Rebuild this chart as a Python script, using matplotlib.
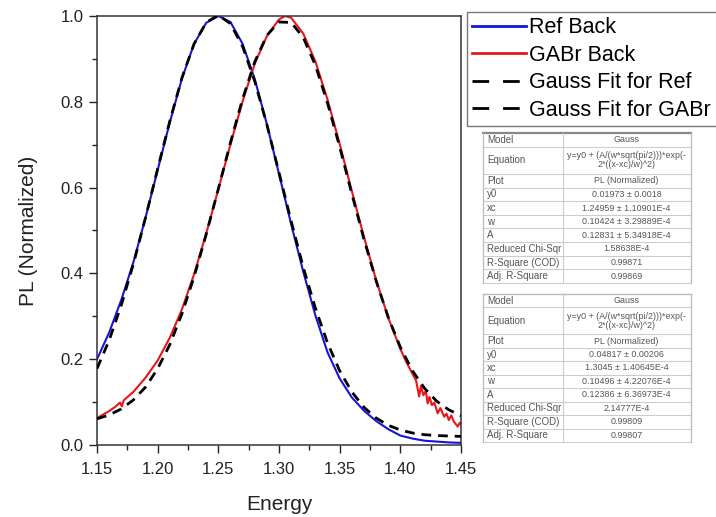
import numpy as np
import matplotlib.pyplot as plt
from matplotlib.lines import Line2D
from matplotlib.ticker import MultipleLocator

plt.rcParams['font.family'] = ['Liberation Sans', 'DejaVu Sans']

# energy grid for the Ref curve and the two fits
energy = [1.15, 1.16, 1.17, 1.18, 1.19, 1.20, 1.21, 1.22, 1.23, 1.24, 1.25,
          1.26, 1.27, 1.28, 1.29, 1.30, 1.31, 1.32, 1.33, 1.34, 1.35,
          1.36, 1.37, 1.38, 1.39, 1.40, 1.41, 1.42, 1.43, 1.44, 1.45]

ref_back = [0.200, 0.262, 0.338, 0.426, 0.530, 0.641, 0.752, 0.854, 0.935, 0.984, 1.000,
            0.986, 0.935, 0.853, 0.748, 0.632, 0.515, 0.404, 0.302, 0.216, 0.155,
            0.111, 0.080, 0.056, 0.037, 0.022, 0.015, 0.010, 0.008, 0.006, 0.005]

fit_ref = [0.178, 0.244, 0.326, 0.422, 0.530, 0.644, 0.755, 0.856, 0.935, 0.985, 1.002,
           0.982, 0.929, 0.848, 0.747, 0.635, 0.522, 0.414, 0.319, 0.238, 0.173,
           0.124, 0.088, 0.063, 0.046, 0.035, 0.028, 0.024, 0.022, 0.021, 0.020]

fit_gabr = [0.061, 0.070, 0.084, 0.105, 0.135, 0.178, 0.234, 0.306, 0.392, 0.491, 0.597,
            0.705, 0.807, 0.893, 0.955, 0.986, 0.985, 0.950, 0.885, 0.797, 0.695,
            0.586, 0.480, 0.383, 0.298, 0.228, 0.173, 0.132, 0.102, 0.082, 0.068]

# GABr curve has its own (uneven) energy points, noisy at high energy
gabr_energy = [1.15, 1.16, 1.165, 1.169, 1.1705, 1.172, 1.18, 1.19, 1.20, 1.21, 1.22,
               1.23, 1.24, 1.25, 1.26, 1.27, 1.28, 1.29, 1.30, 1.305, 1.31, 1.32,
               1.33, 1.34, 1.35, 1.36, 1.37, 1.38, 1.39, 1.40, 1.405, 1.41, 1.413,
               1.4155, 1.417, 1.419, 1.421, 1.4225, 1.424, 1.426, 1.428, 1.4308,
               1.433, 1.4362, 1.438, 1.440, 1.442, 1.444, 1.4473, 1.449, 1.45]
gabr_back = [0.063, 0.079, 0.089, 0.099, 0.090, 0.104, 0.124, 0.157, 0.197, 0.250, 0.316,
             0.398, 0.493, 0.596, 0.701, 0.801, 0.889, 0.953, 0.992, 1.000, 0.996, 0.959,
             0.894, 0.805, 0.702, 0.592, 0.485, 0.385, 0.297, 0.224, 0.193, 0.166, 0.150,
             0.113, 0.138, 0.116, 0.126, 0.097, 0.112, 0.093, 0.099, 0.074,
             0.086, 0.066, 0.073, 0.058, 0.069, 0.055, 0.043, 0.052, 0.048]

labels = ['Ref Back', 'GABr Back', 'Gauss Fit for Ref', 'Gauss Fit for GABr']

row_names = ['Model', 'Equation', 'Plot', 'y0', 'xc', 'w', 'A',
             'Reduced Chi-Sqr', 'R-Square (COD)', 'Adj. R-Square']
equation = 'y=y0 + (A/(w*sqrt(pi/2)))*exp(-\n2*((x-xc)/w)^2)'
table_ref = ['Gauss', equation, 'PL (Normalized)', '0.01973 \u00b1 0.0018',
             '1.24959 \u00b1 1.10901E-4', '0.10424 \u00b1 3.29889E-4',
             '0.12831 \u00b1 5.34918E-4', '1.58638E-4', '0.99871', '0.99869']
table_gabr = ['Gauss', equation, 'PL (Normalized)', '0.04817 \u00b1 0.00206',
              '1.3045 \u00b1 1.40645E-4', '0.10496 \u00b1 4.22076E-4',
              '0.12386 \u00b1 6.36973E-4', '2.14777E-4', '0.99809', '0.99807']

fig = plt.figure(figsize=(7.16, 5.17), dpi=100)
ax = fig.add_axes([97/716, 72/517, 364/716, 429/517])

ax.plot(energy, ref_back, color='#1414dc', lw=1.5, zorder=2)
ax.plot(gabr_energy, gabr_back, color='#e8161b', lw=1.5, zorder=2)
ax.plot(energy, fit_ref, color='black', lw=2, dashes=(3.5, 2.5), zorder=3)
ax.plot(energy, fit_gabr, color='black', lw=2, dashes=(3.5, 2.5), zorder=3)

ax.set_xlim(1.15, 1.45)
ax.set_ylim(0, 1.0)
ax.xaxis.set_minor_locator(MultipleLocator(0.025))
ax.yaxis.set_major_locator(MultipleLocator(0.2))
ax.yaxis.set_minor_locator(MultipleLocator(0.1))
ax.set_xticks(np.round(np.arange(1.15, 1.451, 0.05), 2))
ax.set_xticklabels(['%.2f' % v for v in np.arange(1.15, 1.451, 0.05)])
ax.tick_params(which='major', direction='out', length=6, width=1, labelsize=12,
               colors='#222', top=False, right=False)
ax.tick_params(axis='x', which='major', pad=6)
ax.tick_params(which='minor', direction='out', length=3.5, width=1,
               top=False, right=False, colors='#222')
for s in ax.spines.values():
    s.set_color('#333')
    s.set_linewidth(1.1)
ax.set_xlabel('Energy', fontsize=15, color='#222', labelpad=13)
ax.set_ylabel('PL (Normalized)', fontsize=15, color='#222', labelpad=16)

handles = [Line2D([], [], color='#1414dc', lw=2),
           Line2D([], [], color='#e8161b', lw=2),
           Line2D([], [], color='black', lw=2, dashes=(6, 5)),
           Line2D([], [], color='black', lw=2, dashes=(6, 5))]
leg = fig.legend(handles, labels, loc='upper left', bbox_to_anchor=(467/716, 1 - 12/517),
                 fontsize=15.5, frameon=True, fancybox=False, handlelength=2.5,
                 handletextpad=0.15, labelspacing=0.3, borderpad=0.25, borderaxespad=0)
leg.get_frame().set_edgecolor('#555')
leg.get_frame().set_linewidth(1)


def draw_table(rect, values, top_dark=False):
    t = fig.add_axes(rect)
    t.set_xlim(0, 1)
    t.set_ylim(0, 1)
    t.axis('off')
    units = [1, 2, 1, 1, 1, 1, 1, 1, 1, 1]
    total = sum(units)
    split = 0.385
    y = 1.0
    t.plot([0, 1], [1, 1], color='#888' if top_dark else '#bbb',
           lw=1.6 if top_dark else 1, clip_on=False)
    for name, val, u in zip(row_names, values, units):
        h = u / total
        mid = y - h / 2
        t.text(0.02, mid, name, fontsize=7, color='#555', va='center', ha='left')
        t.text(0.69, mid, val, fontsize=6.4, color='#555', va='center', ha='center',
               linespacing=1.0)
        y -= h
        t.plot([0, 1], [y, y], color='#ccc', lw=0.8, clip_on=False)
    t.plot([0, 0], [0, 1], color='#bbb', lw=0.9, clip_on=False)
    t.plot([1, 1], [0, 1], color='#bbb', lw=0.9, clip_on=False)
    t.plot([split, split], [0, 1], color='#ccc', lw=0.8, clip_on=False)


draw_table([483/716, (517-283)/517, 208/716, 150/517], table_ref, top_dark=True)
draw_table([483/716, (517-442)/517, 208/716, 148/517], table_gabr)

fig.savefig('out.png', dpi=100)
